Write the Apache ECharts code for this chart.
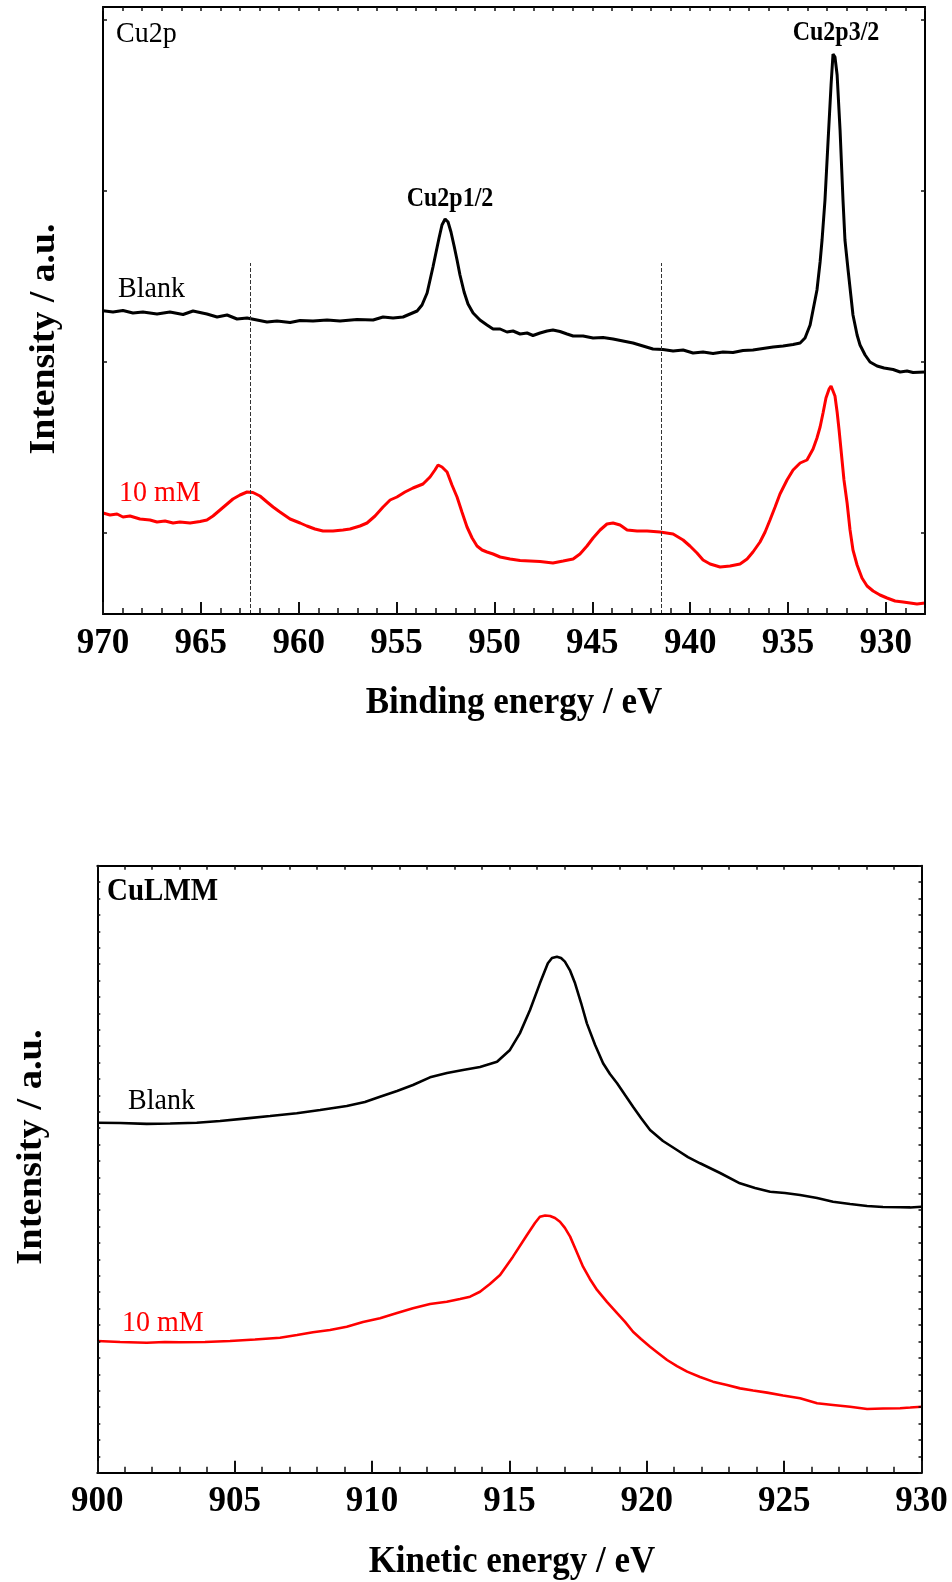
<!DOCTYPE html>
<html><head><meta charset="utf-8">
<script src="https://cdn.jsdelivr.net/npm/echarts@6/dist/echarts.min.js"></script>
<style>html,body{margin:0;padding:0;background:#fff}#c{width:952px;height:1582px}</style>
</head><body><div id="c"></div>
<script>
// ---------- data ----------
const cu2pTickLabels = [970,965,960,955,950,945,940,935,930];
const lmmTickLabels = [900,905,910,915,920,925,930];
const cu2pYTicks = [81, 252, 423.3, 594.6];
const satelliteLines = [962.5, 941.5];
const satelliteTop = 351;

const cu2pBlank = [[970.00,303.3],[969.49,302],[968.98,303.5],[968.47,301],[967.96,302],[967.24,300],[966.58,302],[965.91,299.5],[965.40,303],[964.69,300],[964.17,297],[963.66,299],[963.15,295],[962.64,296],[962.13,294],[961.62,292],[961.11,293],[960.44,291.5],[959.93,293.5],[959.27,293],[958.55,294],[957.89,293],[957.02,294.5],[956.20,294],[955.69,297],[955.18,296],[954.67,297],[954.31,300],[953.95,303],[953.70,309],[953.44,321],[953.29,334],[953.14,347],[952.98,362],[952.83,376],[952.68,389],[952.52,395],[952.37,392],[952.22,382],[952.06,368],[951.91,354],[951.76,339],[951.55,322],[951.35,310],[951.09,301],[950.74,294],[950.38,289],[950.07,285],[949.71,285],[949.36,282],[949.05,283],[948.69,280],[948.33,281],[948.03,278.5],[947.67,281],[947.31,283],[947.01,284],[946.65,282.5],[946.29,280],[945.98,278],[945.47,278],[944.96,276],[944.45,276.5],[943.94,275],[943.43,273],[942.92,271],[942.41,268],[941.90,265],[941.39,264.5],[940.87,263],[940.36,264],[939.85,261],[939.34,262],[938.83,260.5],[938.32,262],[937.81,261.5],[937.30,263.5],[936.79,264],[936.28,265.5],[935.76,267],[935.25,268],[934.74,269.5],[934.38,271],[934.13,276],[933.87,289],[933.67,309],[933.52,324],[933.36,352],[933.26,374],[933.11,414],[932.95,474],[932.80,529],[932.70,560],[932.60,557],[932.49,539],[932.34,484],[932.19,414],[932.09,374],[931.93,344],[931.78,317],[931.68,299],[931.47,279],[931.32,269],[931.06,259],[930.81,252],[930.45,248],[930.09,246],[929.63,244.5],[929.27,242],[928.92,243],[928.61,241.5],[928.00,242]];

const cu2p10mM = [[970.00,101],[969.64,99],[969.28,100],[968.98,97],[968.62,98],[968.11,95],[967.60,94],[967.24,92],[966.83,93],[966.42,91],[966.07,92],[965.55,91],[965.04,92.5],[964.69,94],[964.38,98],[964.02,104],[963.66,110],[963.36,115],[963.00,119],[962.64,122],[962.34,121.5],[961.98,118],[961.62,112],[961.31,107],[960.96,102],[960.44,95],[959.93,91],[959.58,88],[959.17,85],[958.76,83],[958.25,83],[957.74,84],[957.38,85],[956.87,88],[956.51,91],[956.10,98],[955.69,107],[955.33,114],[954.98,117],[954.57,122],[954.16,126],[953.65,130],[953.29,137],[953.04,144],[952.88,149],[952.68,147],[952.42,142],[952.17,129],[951.91,117],[951.66,102],[951.40,87],[951.14,76],[950.89,68],[950.63,64],[950.38,62],[950.07,60],[949.71,57],[949.20,55],[948.69,53.5],[948.18,53],[947.67,52.5],[947.01,51],[946.49,53],[945.98,55],[945.63,60],[945.27,68],[944.96,76],[944.60,84],[944.25,90],[943.94,91],[943.58,89],[943.22,84],[942.71,83],[942.20,83],[941.54,82],[940.87,80],[940.36,74],[940.01,68],[939.65,61],[939.34,54],[938.98,50],[938.47,47],[937.96,48],[937.45,50],[937.09,55],[936.79,62],[936.43,72],[936.17,82],[935.92,94],[935.66,107],[935.41,120],[935.05,134],[934.74,144],[934.38,151],[934.03,154],[933.72,165],[933.52,176],[933.36,187],[933.21,201],[933.06,216],[932.90,225],[932.80,228],[932.70,226],[932.60,218],[932.49,202],[932.39,184],[932.29,164],[932.14,134],[931.98,111],[931.83,84],[931.68,64],[931.47,49],[931.22,36],[930.96,28],[930.65,23],[930.30,19],[929.94,16],[929.53,13],[929.12,12],[928.76,11],[928.41,10],[928.00,11]];

const lmmBlank = [[900.00,21.33],[900.83,21.32],[901.80,21.26],[902.65,21.29],[903.62,21.33],[904.47,21.44],[905.44,21.60],[906.29,21.74],[907.26,21.91],[908.11,22.11],[909.08,22.35],[909.74,22.60],[910.29,22.92],[910.91,23.27],[911.49,23.63],[912.11,24.10],[912.73,24.36],[913.31,24.55],[913.93,24.73],[914.55,25.05],[915.02,25.77],[915.38,26.78],[915.75,28.20],[916.11,29.83],[916.40,31.05],[916.55,31.37],[916.73,31.45],[916.88,31.37],[917.02,31.15],[917.20,30.64],[917.39,29.83],[917.61,28.63],[917.82,27.39],[918.12,26.07],[918.41,24.96],[918.66,24.30],[918.92,23.74],[919.21,23.02],[919.50,22.31],[919.79,21.62],[920.12,20.89],[920.59,20.22],[921.10,19.67],[921.50,19.24],[921.94,18.86],[922.67,18.27],[923.39,17.64],[923.94,17.35],[924.49,17.13],[925.03,17.05],[925.58,16.93],[926.20,16.74],[926.78,16.52],[927.40,16.38],[928.02,16.26],[928.60,16.20],[929.22,16.18],[929.59,16.17],[930.00,16.21]];

const lmm10mM = [[900.00,8.03],[900.83,7.97],[901.80,7.92],[902.46,7.97],[903.01,7.95],[903.92,7.97],[904.83,8.03],[905.74,8.12],[906.65,8.23],[907.27,8.39],[907.85,8.56],[908.47,8.70],[909.08,8.90],[909.67,9.19],[910.29,9.41],[910.91,9.73],[911.49,10.02],[912.11,10.28],[912.72,10.42],[913.20,10.59],[913.57,10.73],[913.93,11.03],[914.29,11.50],[914.66,12.05],[915.13,13.17],[915.64,14.49],[915.93,15.22],[916.11,15.60],[916.30,15.68],[916.48,15.65],[916.66,15.53],[916.84,15.30],[917.02,14.92],[917.21,14.39],[917.42,13.58],[917.68,12.56],[917.93,11.81],[918.19,11.14],[918.55,10.41],[918.92,9.72],[919.21,9.19],[919.50,8.59],[919.79,8.15],[920.12,7.68],[920.41,7.30],[920.74,6.87],[921.10,6.50],[921.47,6.16],[921.94,5.83],[922.41,5.55],[922.92,5.35],[923.40,5.14],[923.87,5.01],[924.38,4.88],[924.96,4.71],[925.58,4.54],[926.20,4.23],[926.78,4.13],[927.40,4.02],[928.02,3.88],[928.60,3.91],[929.22,3.93],[929.59,3.97],[930.00,4.02]];

// ---------- chart ----------
const SERIF = '"Liberation Serif","Times New Roman",serif';
const minorTop = []; for (let v = 928; v <= 970; v++) minorTop.push(v);
const AX = () => ({color:'#000', width:2});
const TICK = (len, w, extra) => Object.assign({show:true, inside:true, length:len, lineStyle:{color:'#111', width:w}}, extra || {});
const NOLAB = () => ({show:false});
const NOSPLIT = () => ({show:false});
const R0 = () => ({left:103, top:7, width:822, height:607});
const R1 = () => ({left:97.3, top:865.7, width:824.2, height:607});
const TXT = (x, y, text, size, bold, color, align, extra) => Object.assign({
  type:'text', x:x, y:y, zlevel:1, z:50,
  style:{text:text, fontFamily:SERIF, fontSize:size, fontWeight:bold ? 'bold' : 'normal', fill:color, align:align, verticalAlign:'middle'}
}, extra || {});

const chart = echarts.init(document.getElementById('c'));
const option = {
  animation:false,
  grid:[R0(), R0(), R0(), R1(), R1(), R1()],
  xAxis:[
    {gridIndex:0, type:'value', min:928, max:970, inverse:true, z:10,
      axisLine:{show:true, onZero:false, lineStyle:AX()},
      axisTick:TICK(12, 2, {customValues:cu2pTickLabels}),
      axisLabel:{show:true, customValues:cu2pTickLabels, margin:12, color:'#000', fontFamily:SERIF, fontWeight:'bold', fontSize:35},
      splitLine:NOSPLIT()},
    {gridIndex:1, type:'value', min:928, max:970, inverse:true, z:10,
      axisLine:{show:false, onZero:false},
      axisTick:TICK(6, 1.5, {customValues:minorTop}), axisLabel:NOLAB(), splitLine:NOSPLIT()},
    {gridIndex:2, type:'value', min:928, max:970, inverse:true, position:'top', z:10,
      axisLine:{show:true, onZero:false, lineStyle:AX()},
      axisTick:TICK(4, 1.5, {customValues:minorTop}), axisLabel:NOLAB(), splitLine:NOSPLIT()},
    {gridIndex:3, type:'value', min:900, max:930, interval:5, z:10,
      axisLine:{show:true, onZero:false, lineStyle:AX()},
      axisTick:TICK(12, 2),
      axisLabel:{show:true, margin:12, color:'#000', fontFamily:SERIF, fontWeight:'bold', fontSize:35},
      splitLine:NOSPLIT()},
    {gridIndex:4, type:'value', min:900, max:930, interval:1, z:10,
      axisLine:{show:false, onZero:false},
      axisTick:TICK(6, 1.5), axisLabel:NOLAB(), splitLine:NOSPLIT()},
    {gridIndex:5, type:'value', min:900, max:930, interval:1, position:'top', z:10,
      axisLine:{show:true, onZero:false, lineStyle:AX()},
      axisTick:TICK(4, 1.5), axisLabel:NOLAB(), splitLine:NOSPLIT()}
  ],
  yAxis:[
    {gridIndex:0, type:'value', min:0, max:607, z:10,
      axisLine:{show:true, onZero:false, lineStyle:AX()},
      axisTick:TICK(4, 1.5, {customValues:cu2pYTicks}), axisLabel:NOLAB(), splitLine:NOSPLIT()},
    {gridIndex:1, type:'value', min:0, max:607, position:'right', z:10,
      axisLine:{show:true, onZero:false, lineStyle:AX()},
      axisTick:TICK(4, 1.5, {customValues:cu2pYTicks}), axisLabel:NOLAB(), splitLine:NOSPLIT()},
    {gridIndex:2, type:'value', min:0, max:607, show:false},
    {gridIndex:3, type:'value', min:0, max:37, interval:1, z:10,
      axisLine:{show:true, onZero:false, lineStyle:AX()},
      axisTick:TICK(3, 1.5), axisLabel:NOLAB(), splitLine:NOSPLIT()},
    {gridIndex:4, type:'value', min:0, max:37, interval:1, position:'right', z:10,
      axisLine:{show:true, onZero:false, lineStyle:AX()},
      axisTick:TICK(3, 1.5), axisLabel:NOLAB(), splitLine:NOSPLIT()},
    {gridIndex:5, type:'value', min:0, max:37, show:false}
  ],
  series:[
    {type:'line', name:'Blank', xAxisIndex:0, yAxisIndex:0, data:cu2pBlank, showSymbol:false,
      lineStyle:{color:'#000', width:3},
      markLine:{silent:true, symbol:'none', label:{show:false},
        lineStyle:{color:'#333', width:1, type:'dashed'},
        data: satelliteLines.map(e => [{coord:[e, 0]}, {coord:[e, satelliteTop]}])}},
    {type:'line', name:'10 mM', xAxisIndex:0, yAxisIndex:0, data:cu2p10mM, showSymbol:false,
      lineStyle:{color:'#ff0000', width:3}},
    {type:'line', name:'Blank', xAxisIndex:3, yAxisIndex:3, data:lmmBlank, showSymbol:false,
      lineStyle:{color:'#000', width:2.6}},
    {type:'line', name:'10 mM', xAxisIndex:3, yAxisIndex:3, data:lmm10mM, showSymbol:false,
      lineStyle:{color:'#ff0000', width:2.6}}
  ],
  graphic:[
    TXT(116, 34, 'Cu2p', 28, false, '#000', 'left', {scaleY:1.08}),
    TXT(118, 289, 'Blank', 28, false, '#000', 'left', {scaleY:1.08}),
    TXT(119, 493, '10 mM', 28, false, '#ff0000', 'left', {scaleY:1.08}),
    TXT(450, 199, 'Cu2p1/2', 24, true, '#000', 'center', {scaleY:1.1}),
    TXT(836, 33, 'Cu2p3/2', 24, true, '#000', 'center', {scaleY:1.1}),
    TXT(514, 703, 'Binding energy / eV', 35, true, '#000', 'center', {scaleY:1.08}),
    TXT(45, 339, 'Intensity / a.u.', 35, true, '#000', 'center', {rotation:Math.PI/2, scaleX:1.08}),
    TXT(107, 892, 'CuLMM', 29, true, '#000', 'left', {scaleY:1.08}),
    TXT(128, 1101, 'Blank', 28, false, '#000', 'left', {scaleY:1.08}),
    TXT(122, 1323, '10 mM', 28, false, '#ff0000', 'left', {scaleY:1.08}),
    TXT(512, 1562, 'Kinetic energy / eV', 35, true, '#000', 'center', {scaleY:1.08}),
    TXT(32, 1147, 'Intensity / a.u.', 35, true, '#000', 'center', {rotation:Math.PI/2, scaleX:1.1})
  ]
};
chart.setOption(option);
</script>
</body></html>
